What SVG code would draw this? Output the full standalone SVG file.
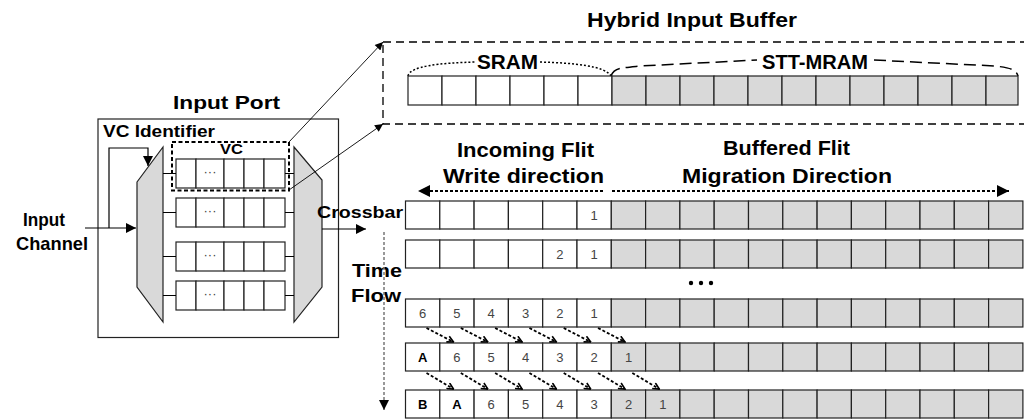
<svg xmlns="http://www.w3.org/2000/svg" width="1024" height="419" viewBox="0 0 1024 419">
<defs>
<style>
.t{font-family:"Liberation Sans",Arial,sans-serif;font-weight:bold;fill:#000}
.n{font-family:"Liberation Sans",Arial,sans-serif;font-size:13px;fill:#444;text-anchor:middle}
.nb{font-family:"Liberation Sans",Arial,sans-serif;font-size:13px;font-weight:bold;fill:#000;text-anchor:middle}
.w{fill:#fff;stroke:#222;stroke-width:1.2}
.g{fill:#d9d9d9;stroke:#222;stroke-width:1.2}
.ln{fill:none;stroke:#000;stroke-width:1.2}
.mux{fill:#d9d9d9;stroke:#222;stroke-width:1.2}
</style>
<marker id="ah" viewBox="0 0 10 10" refX="10" refY="5" markerWidth="15" markerHeight="10" markerUnits="userSpaceOnUse" orient="auto"><path d="M0,0 L10,5 L0,10 z" fill="#000"/></marker>
<marker id="ahs" viewBox="0 0 10 10" refX="10" refY="5" markerWidth="11" markerHeight="8" markerUnits="userSpaceOnUse" orient="auto"><path d="M0,0 L10,5 L0,10 z" fill="#000"/></marker>
<marker id="ahb" viewBox="0 0 10 10" refX="10" refY="5" markerWidth="21" markerHeight="12" markerUnits="userSpaceOnUse" orient="auto"><path d="M0,0 L10,5 L0,10 z" fill="#000"/></marker>
<marker id="ho" viewBox="0 0 10 10" refX="9" refY="5" markerWidth="8" markerHeight="8" markerUnits="userSpaceOnUse" orient="auto"><path d="M1,1 L9,5 L1,9" fill="none" stroke="#000" stroke-width="2"/></marker>
</defs>
<rect width="1024" height="419" fill="#fff"/>

<g id="input-port">
<rect x="98" y="119" width="240.5" height="218.5" fill="none" stroke="#222" stroke-width="1.2"/>
<text class="t" x="173" y="109" font-size="19" textLength="107" lengthAdjust="spacingAndGlyphs">Input Port</text>
<text class="t" x="103" y="137" font-size="16" textLength="112" lengthAdjust="spacingAndGlyphs">VC Identifier</text>
</g>

<g id="input-channel">
<text class="t" x="23" y="226" font-size="19" textLength="42" lengthAdjust="spacingAndGlyphs">Input</text>
<text class="t" x="16" y="250" font-size="19" textLength="72" lengthAdjust="spacingAndGlyphs">Channel</text>
</g>

<g id="demux">
<polygon class="mux" points="137,182 163,147 163,322 137,287"/>
</g>
<g id="mux">
<polygon class="mux" points="294,147 322,180 322,287 294,322"/>
</g>

<g id="vc-buffers">
<g id="vc1">
<rect class="w" x="176" y="159" width="20" height="29"/><rect class="w" x="196" y="159" width="28" height="29"/><rect class="w" x="224" y="159" width="20" height="29"/><rect class="w" x="244" y="159" width="20" height="29"/><rect class="w" x="264" y="159" width="21" height="29"/>
<text class="n" x="210" y="176" font-size="11" fill="#222">···</text>
</g>
<g id="vc2">
<rect class="w" x="176" y="198" width="20" height="29"/><rect class="w" x="196" y="198" width="28" height="29"/><rect class="w" x="224" y="198" width="20" height="29"/><rect class="w" x="244" y="198" width="20" height="29"/><rect class="w" x="264" y="198" width="21" height="29"/>
<text class="n" x="210" y="215" font-size="11">···</text>
</g>
<g id="vc3">
<rect class="w" x="176" y="242" width="20" height="29"/><rect class="w" x="196" y="242" width="28" height="29"/><rect class="w" x="224" y="242" width="20" height="29"/><rect class="w" x="244" y="242" width="20" height="29"/><rect class="w" x="264" y="242" width="21" height="29"/>
<text class="n" x="210" y="259" font-size="11">···</text>
</g>
<g id="vc4">
<rect class="w" x="176" y="281" width="20" height="29"/><rect class="w" x="196" y="281" width="28" height="29"/><rect class="w" x="224" y="281" width="20" height="29"/><rect class="w" x="244" y="281" width="20" height="29"/><rect class="w" x="264" y="281" width="21" height="29"/>
<text class="n" x="210" y="298" font-size="11">···</text>
</g>
</g>

<g id="vc-highlight">
<rect x="172" y="142" width="117" height="48.5" fill="none" stroke="#000" stroke-width="2" stroke-dasharray="4,2.5"/>
<text class="t" x="220" y="154" font-size="15" textLength="23" lengthAdjust="spacingAndGlyphs">VC</text>
</g>

<g id="hybrid-buffer">
<text class="t" x="587" y="27" font-size="20" textLength="210" lengthAdjust="spacingAndGlyphs">Hybrid Input Buffer</text>
<rect x="383" y="42" width="645" height="82" fill="none" stroke="#000" stroke-width="1.3" stroke-dasharray="8,5"/>
<text class="t" x="477" y="69" font-size="20" textLength="61" lengthAdjust="spacingAndGlyphs">SRAM</text>
<text class="t" x="762" y="69" font-size="20" textLength="106" lengthAdjust="spacingAndGlyphs">STT-MRAM</text>
<path d="M408,76 C410,66 440,63 475,62" fill="none" stroke="#000" stroke-width="1.5" stroke-dasharray="2,2"/>
<path d="M540,62 C575,63 605,66 611,76" fill="none" stroke="#000" stroke-width="1.5" stroke-dasharray="2,2"/>
<path d="M611,76 C614,68 620,68 640,66 L757,60" fill="none" stroke="#000" stroke-width="1.5" stroke-dasharray="12,6"/>
<path d="M874,60 L995,66 C1012,68 1016,70 1018,76" fill="none" stroke="#000" stroke-width="1.5" stroke-dasharray="12,6"/>
<g>
<rect class="w" x="408" y="76" width="34" height="29"/><rect class="w" x="442" y="76" width="34" height="29"/><rect class="w" x="476" y="76" width="34" height="29"/><rect class="w" x="510" y="76" width="34" height="29"/><rect class="w" x="544" y="76" width="34" height="29"/><rect class="w" x="578" y="76" width="34" height="29"/>
<rect class="g" x="612" y="76" width="34" height="29"/><rect class="g" x="646" y="76" width="34" height="29"/><rect class="g" x="680" y="76" width="34" height="29"/><rect class="g" x="714" y="76" width="34" height="29"/><rect class="g" x="748" y="76" width="34" height="29"/><rect class="g" x="782" y="76" width="34" height="29"/><rect class="g" x="816" y="76" width="34" height="29"/><rect class="g" x="850" y="76" width="34" height="29"/><rect class="g" x="884" y="76" width="34" height="29"/><rect class="g" x="918" y="76" width="34" height="29"/><rect class="g" x="952" y="76" width="34" height="29"/><rect class="g" x="986" y="76" width="32" height="29"/>
</g>
</g>

<g id="labels">
<text class="t" x="317" y="218" font-size="17" textLength="86" lengthAdjust="spacingAndGlyphs">Crossbar</text>
<text class="t" x="457" y="157" font-size="20" textLength="137" lengthAdjust="spacingAndGlyphs">Incoming Flit</text>
<text class="t" x="443" y="183" font-size="20" textLength="161" lengthAdjust="spacingAndGlyphs">Write direction</text>
<text class="t" x="723" y="155" font-size="20" textLength="127" lengthAdjust="spacingAndGlyphs">Buffered Flit</text>
<text class="t" x="682" y="183" font-size="20" textLength="210" lengthAdjust="spacingAndGlyphs">Migration Direction</text>
<text class="t" x="352" y="277" font-size="18" textLength="50" lengthAdjust="spacingAndGlyphs">Time</text>
<text class="t" x="351" y="302" font-size="18" textLength="50" lengthAdjust="spacingAndGlyphs">Flow</text>
<g fill="#000"><circle cx="691" cy="283" r="2.2"/><circle cx="701" cy="283" r="2.2"/><circle cx="711" cy="283" r="2.2"/></g>
</g>

<g id="row1">
<rect class="w" x="405.5" y="201" width="34.3" height="28"/><rect class="w" x="439.8" y="201" width="34.3" height="28"/><rect class="w" x="474.1" y="201" width="34.3" height="28"/><rect class="w" x="508.4" y="201" width="34.3" height="28"/><rect class="w" x="542.7" y="201" width="34.3" height="28"/><rect class="w" x="577" y="201" width="34.3" height="28"/>
<rect class="g" x="611.3" y="201" width="34.3" height="28"/><rect class="g" x="645.6" y="201" width="34.3" height="28"/><rect class="g" x="679.9" y="201" width="34.3" height="28"/><rect class="g" x="714.2" y="201" width="34.3" height="28"/><rect class="g" x="748.5" y="201" width="34.3" height="28"/><rect class="g" x="782.8" y="201" width="34.3" height="28"/><rect class="g" x="817.1" y="201" width="34.3" height="28"/><rect class="g" x="851.4" y="201" width="34.3" height="28"/><rect class="g" x="885.7" y="201" width="34.3" height="28"/><rect class="g" x="920" y="201" width="34.3" height="28"/><rect class="g" x="954.3" y="201" width="34.3" height="28"/><rect class="g" x="988.6" y="201" width="34.3" height="28"/>
<text class="n" x="594.2" y="220">1</text>
</g>
<g id="row2">
<rect class="w" x="405.5" y="240" width="34.3" height="28"/><rect class="w" x="439.8" y="240" width="34.3" height="28"/><rect class="w" x="474.1" y="240" width="34.3" height="28"/><rect class="w" x="508.4" y="240" width="34.3" height="28"/><rect class="w" x="542.7" y="240" width="34.3" height="28"/><rect class="w" x="577" y="240" width="34.3" height="28"/>
<rect class="g" x="611.3" y="240" width="34.3" height="28"/><rect class="g" x="645.6" y="240" width="34.3" height="28"/><rect class="g" x="679.9" y="240" width="34.3" height="28"/><rect class="g" x="714.2" y="240" width="34.3" height="28"/><rect class="g" x="748.5" y="240" width="34.3" height="28"/><rect class="g" x="782.8" y="240" width="34.3" height="28"/><rect class="g" x="817.1" y="240" width="34.3" height="28"/><rect class="g" x="851.4" y="240" width="34.3" height="28"/><rect class="g" x="885.7" y="240" width="34.3" height="28"/><rect class="g" x="920" y="240" width="34.3" height="28"/><rect class="g" x="954.3" y="240" width="34.3" height="28"/><rect class="g" x="988.6" y="240" width="34.3" height="28"/>
<text class="n" x="559.9" y="259">2</text><text class="n" x="594.2" y="259">1</text>
</g>
<g id="row3">
<rect class="w" x="405.5" y="299" width="34.3" height="28"/><rect class="w" x="439.8" y="299" width="34.3" height="28"/><rect class="w" x="474.1" y="299" width="34.3" height="28"/><rect class="w" x="508.4" y="299" width="34.3" height="28"/><rect class="w" x="542.7" y="299" width="34.3" height="28"/><rect class="w" x="577" y="299" width="34.3" height="28"/>
<rect class="g" x="611.3" y="299" width="34.3" height="28"/><rect class="g" x="645.6" y="299" width="34.3" height="28"/><rect class="g" x="679.9" y="299" width="34.3" height="28"/><rect class="g" x="714.2" y="299" width="34.3" height="28"/><rect class="g" x="748.5" y="299" width="34.3" height="28"/><rect class="g" x="782.8" y="299" width="34.3" height="28"/><rect class="g" x="817.1" y="299" width="34.3" height="28"/><rect class="g" x="851.4" y="299" width="34.3" height="28"/><rect class="g" x="885.7" y="299" width="34.3" height="28"/><rect class="g" x="920" y="299" width="34.3" height="28"/><rect class="g" x="954.3" y="299" width="34.3" height="28"/><rect class="g" x="988.6" y="299" width="34.3" height="28"/>
<text class="n" x="422.6" y="318">6</text><text class="n" x="456.9" y="318">5</text><text class="n" x="491.2" y="318">4</text><text class="n" x="525.5" y="318">3</text><text class="n" x="559.9" y="318">2</text><text class="n" x="594.2" y="318">1</text>
</g>
<g id="row4">
<rect class="w" x="405.5" y="343" width="34.3" height="28"/><rect class="w" x="439.8" y="343" width="34.3" height="28"/><rect class="w" x="474.1" y="343" width="34.3" height="28"/><rect class="w" x="508.4" y="343" width="34.3" height="28"/><rect class="w" x="542.7" y="343" width="34.3" height="28"/><rect class="w" x="577" y="343" width="34.3" height="28"/>
<rect class="g" x="611.3" y="343" width="34.3" height="28"/><rect class="g" x="645.6" y="343" width="34.3" height="28"/><rect class="g" x="679.9" y="343" width="34.3" height="28"/><rect class="g" x="714.2" y="343" width="34.3" height="28"/><rect class="g" x="748.5" y="343" width="34.3" height="28"/><rect class="g" x="782.8" y="343" width="34.3" height="28"/><rect class="g" x="817.1" y="343" width="34.3" height="28"/><rect class="g" x="851.4" y="343" width="34.3" height="28"/><rect class="g" x="885.7" y="343" width="34.3" height="28"/><rect class="g" x="920" y="343" width="34.3" height="28"/><rect class="g" x="954.3" y="343" width="34.3" height="28"/><rect class="g" x="988.6" y="343" width="34.3" height="28"/>
<text class="nb" x="422.6" y="362">A</text><text class="n" x="456.9" y="362">6</text><text class="n" x="491.2" y="362">5</text><text class="n" x="525.5" y="362">4</text><text class="n" x="559.9" y="362">3</text><text class="n" x="594.2" y="362">2</text><text class="n" x="628.5" y="362">1</text>
</g>
<g id="row5">
<rect class="w" x="405.5" y="390" width="34.3" height="28"/><rect class="w" x="439.8" y="390" width="34.3" height="28"/><rect class="w" x="474.1" y="390" width="34.3" height="28"/><rect class="w" x="508.4" y="390" width="34.3" height="28"/><rect class="w" x="542.7" y="390" width="34.3" height="28"/><rect class="w" x="577" y="390" width="34.3" height="28"/>
<rect class="g" x="611.3" y="390" width="34.3" height="28"/><rect class="g" x="645.6" y="390" width="34.3" height="28"/><rect class="g" x="679.9" y="390" width="34.3" height="28"/><rect class="g" x="714.2" y="390" width="34.3" height="28"/><rect class="g" x="748.5" y="390" width="34.3" height="28"/><rect class="g" x="782.8" y="390" width="34.3" height="28"/><rect class="g" x="817.1" y="390" width="34.3" height="28"/><rect class="g" x="851.4" y="390" width="34.3" height="28"/><rect class="g" x="885.7" y="390" width="34.3" height="28"/><rect class="g" x="920" y="390" width="34.3" height="28"/><rect class="g" x="954.3" y="390" width="34.3" height="28"/><rect class="g" x="988.6" y="390" width="34.3" height="28"/>
<text class="nb" x="422.6" y="409">B</text><text class="nb" x="456.9" y="409">A</text><text class="n" x="491.2" y="409">6</text><text class="n" x="525.5" y="409">5</text><text class="n" x="559.9" y="409">4</text><text class="n" x="594.2" y="409">3</text><text class="n" x="628.5" y="409">2</text><text class="n" x="662.8" y="409">1</text>
</g>

<g id="connectors">
<path class="ln" d="M85,228 L136,228" marker-end="url(#ah)"/>
<path class="ln" d="M109,228 L109,148 L148,148 L148,166" marker-end="url(#ah)"/>
<path class="ln" d="M163,173.5 H176 M163,212.5 H176 M163,256.5 H176 M163,295.5 H176"/>
<path class="ln" d="M285,173.5 H294 M285,212.5 H294 M285,256.5 H294 M285,295.5 H294"/>
<path class="ln" d="M322,229 L366,229" marker-end="url(#ah)"/>
<path fill="none" stroke="#000" stroke-width="0.9" d="M289,142 L383,42" marker-end="url(#ahs)"/>
<path fill="none" stroke="#000" stroke-width="0.9" d="M289,190 L383,124" marker-end="url(#ahs)"/>
<path fill="none" stroke="#000" stroke-width="2" stroke-dasharray="3,2" d="M603,191 L418,191" marker-end="url(#ahb)"/>
<path fill="none" stroke="#000" stroke-width="2" stroke-dasharray="3,2" d="M612,191 L1009,191" marker-end="url(#ahb)"/>
<path fill="none" stroke="#777" stroke-width="1.5" stroke-dasharray="3,2" d="M384,232 L384,410" marker-end="url(#ah)"/>
<g fill="none" stroke="#000" stroke-width="1.8" stroke-dasharray="3,2">
<path d="M426.5,328 L453.5,342" marker-end="url(#ho)"/>
<path d="M460.8,328 L487.8,342" marker-end="url(#ho)"/>
<path d="M495.1,328 L522.1,342" marker-end="url(#ho)"/>
<path d="M529.4,328 L556.4,342" marker-end="url(#ho)"/>
<path d="M563.7,328 L590.7,342" marker-end="url(#ho)"/>
<path d="M598,328 L625,342" marker-end="url(#ho)"/>
<path d="M426.5,373 L453.5,389" marker-end="url(#ho)"/>
<path d="M460.8,373 L487.8,389" marker-end="url(#ho)"/>
<path d="M495.1,373 L522.1,389" marker-end="url(#ho)"/>
<path d="M529.4,373 L556.4,389" marker-end="url(#ho)"/>
<path d="M563.7,373 L590.7,389" marker-end="url(#ho)"/>
<path d="M598,373 L625,389" marker-end="url(#ho)"/>
<path d="M632.3,373 L659.3,389" marker-end="url(#ho)"/>
</g>
</g>
</svg>
